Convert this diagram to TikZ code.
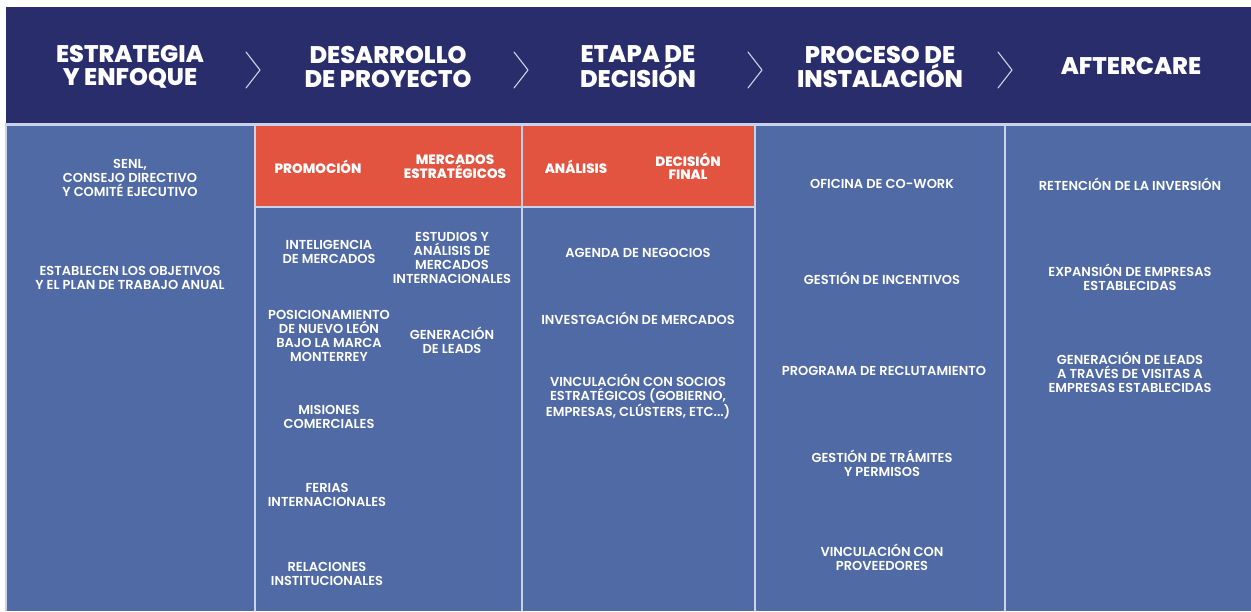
\documentclass[tikz,border=0pt]{standalone}
\usepackage{fontspec}
\setmainfont{Poppins}
\newfontfamily\hdfont{Poppins ExtraBold}
\newfontfamily\bdfont{Poppins SemiBold}
\definecolor{navy}{RGB}{42,45,108}
\definecolor{bodyblue}{RGB}{80,106,166}
\definecolor{redband}{RGB}{226,84,64}
\definecolor{sep}{RGB}{200,211,234}
\definecolor{chev}{RGB}{205,210,230}
\tikzset{
 hd/.style={text=white, font=\hdfont\fontsize{24}{23.5}\selectfont, align=center, inner sep=0pt},
 rd/.style={text=white, font=\hdfont\fontsize{13.5}{13.5}\selectfont, align=center, inner sep=0pt},
 bd/.style={text=white, font=\bdfont\fontsize{13}{14}\selectfont, align=center, inner sep=0pt},
 chevron/.style={draw=chev, line width=1.1pt, line cap=round, line join=round}
}
\begin{document}
\begin{tikzpicture}[x=1pt,y=-1pt]
\useasboundingbox (0,0) rectangle (1251,611);
% header band
\fill[navy] (6,7) rectangle (1251,123);
% body background (separator colour)
\fill[sep] (5,123) rectangle (1251,611);
% columns
\fill[bodyblue] (7,125.5) rectangle (253.5,611);
\fill[redband] (255.5,125.5) rectangle (520.5,205.5);
\fill[bodyblue] (255.5,207.5) rectangle (520.5,611);
\fill[redband] (522.5,125.5) rectangle (753.5,205.5);
\fill[bodyblue] (522.5,207.5) rectangle (753.5,611);
\fill[bodyblue] (755.5,125.5) rectangle (1003.5,611);
\fill[bodyblue] (1005.5,125.5) rectangle (1251,611);
% chevrons
\foreach \cx in {253,521,755,1005}{
  \draw[chevron] (\cx-7,52) -- (\cx+7,70) -- (\cx-7,88);
}
% header texts
\node[hd] (h1) at (130,67) {ESTRATEGIA\\Y ENFOQUE};
\node[hd] (h2) at (388,67) {DESARROLLO\\DE PROYECTO};
\node[hd] (h3) at (638,67) {ETAPA DE\\DECISIÓN};
\node[hd] (h4) at (880,67) {PROCESO DE\\INSTALACIÓN};
\node[hd] (h5) at (1131,66) {AFTERCARE};
% red sub-headers
\node[rd] (promo) at (318,167) {PROMOCIÓN};
\node[rd] (merc) at (455,166.5) {MERCADOS\\ESTRATÉGICOS};
\node[rd] (anal) at (576,167) {ANÁLISIS};
\node[rd] (decf) at (688,166.5) {DECISIÓN\\FINAL};
% column 1
\node[bd] (c1a) at (130,178) {SENL,\\CONSEJO DIRECTIVO\\Y COMITÉ EJECUTIVO};
\node[bd] (c1b) at (130,278) {ESTABLECEN LOS OBJETIVOS\\Y EL PLAN DE TRABAJO ANUAL};
% column 2
\node[bd] (c2a) at (329,252) {INTELIGENCIA\\DE MERCADOS};
\node[bd] (c2b) at (452,257.5) {ESTUDIOS Y\\ANÁLISIS DE\\MERCADOS\\INTERNACIONALES};
\node[bd] (c2c) at (329,336) {POSICIONAMIENTO\\DE NUEVO LEÓN\\BAJO LA MARCA\\MONTERREY};
\node[bd] (c2d) at (452,340) {GENERACIÓN\\DE LEADS};
\node[bd] (c2e) at (329,417) {MISIONES\\COMERCIALES};
\node[bd] (c2f) at (327,495) {FERIAS\\INTERNACIONALES};
\node[bd] (c2g) at (327,574) {RELACIONES\\INSTITUCIONALES};
% column 3
\node[bd] (c3a) at (638,253) {AGENDA DE NEGOCIOS};
\node[bd] (c3b) at (638,318) {INVESTGACIÓN DE MERCADOS};
\node[bd] (c3c) at (638,397) {VINCULACIÓN CON SOCIOS\\ESTRATÉGICOS (GOBIERNO,\\EMPRESAS, CLÚSTERS, ETC...)};
% column 4
\node[bd] (c4a) at (882,184) {OFICINA DE CO-WORK};
\node[bd] (c4b) at (882,278) {GESTIÓN DE INCENTIVOS};
\node[bd] (c4c) at (884,371) {PROGRAMA DE RECLUTAMIENTO};
\node[bd] (c4d) at (882,463.5) {GESTIÓN DE TRÁMITES\\Y PERMISOS};
\node[bd] (c4e) at (882,557) {VINCULACIÓN CON\\PROVEEDORES};
% column 5
\node[bd] (c5a) at (1130,184) {RETENCIÓN DE LA INVERSIÓN};
\node[bd] (c5b) at (1130,277) {EXPANSIÓN DE EMPRESAS\\ESTABLECIDAS};
\node[bd] (c5c) at (1130,372) {GENERACIÓN DE LEADS\\A TRAVÉS DE VISITAS A\\EMPRESAS ESTABLECIDAS};
\end{tikzpicture}
\end{document}
